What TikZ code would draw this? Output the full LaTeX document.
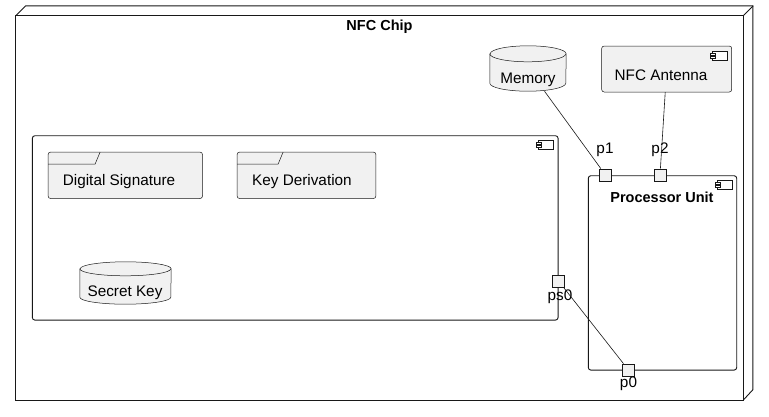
\documentclass[tikz,border=0pt]{standalone}
\usepackage{fontspec}
\setmainfont{Liberation Sans}
\definecolor{elfill}{HTML}{F1F1F1}
\definecolor{ln}{HTML}{181818}
\begin{document}
\begin{tikzpicture}[x=1pt,y=-1pt,
  every node/.style={font=\fontsize{15.3}{18}\selectfont, inner sep=0pt},
  frame/.style={draw=ln, line width=0.9pt, fill=white, rounded corners=2.5pt},
  elem/.style={draw=ln, line width=0.5pt, fill=elfill, rounded corners=2.5pt},
  port/.style={draw=ln, line width=0.8pt, fill=elfill, minimum size=12pt, rectangle},
  conn/.style={draw=ln, line width=0.6pt},
  ghost/.style={rectangle, draw=none, fill=none},
  lbl/.style={text=black},
  ttl/.style={font=\fontsize{14.5}{17}\selectfont\bfseries}
]
\newcommand\compglyph[1]{%
  \begin{scope}[shift={(#1)}]
    \draw[ln, line width=0.5pt, fill=white] (-20,5) rectangle (-5,14);
    \draw[ln, line width=0.5pt, fill=white] (-22,7) rectangle (-17,9);
    \draw[ln, line width=0.5pt, fill=white] (-22,10) rectangle (-17,12);
  \end{scope}}
\useasboundingbox[fill=white] (0,0) rectangle (769,416);

% NFC Chip node (3D box)
\node[ghost, minimum width=727pt, minimum height=384pt] (chip) at (379.5,208) {};
\draw[ln, line width=0.9pt, fill=white]
  (chip.north west) -- ++(10,-10) -- ++(727,0) -- ++(0,384) -- (chip.south east) -- cycle;
\draw[ln, line width=0.9pt, fill=white] (chip.north west) rectangle (chip.south east);
\draw[ln, line width=0.9pt] (chip.north east) -- ++(10,-10);
\node[ttl] (chiptitle) at (379.5,27) {NFC Chip};

% left component
\node[frame, minimum width=525.7pt, minimum height=184.3pt] (lb) at (295.2,227.9) {};
\compglyph{lb.north east}

% Processor Unit
\node[frame, minimum width=148.4pt, minimum height=194.3pt] (pu) at (662.5,272.9) {};
\compglyph{pu.north east}
\node[ttl] (putitle) at (662,197) {Processor Unit};

% NFC Antenna
\node[elem, minimum width=130pt, minimum height=46pt] (ant) at (666.7,69) {};
\compglyph{ant.north east}
\node[lbl] (antlbl) at (661,75) {NFC Antenna};

% Memory (database)
\node[ghost, minimum width=76pt, minimum height=45pt] (mem) at (528,68.5) {};
\draw[ln, line width=0.5pt, fill=elfill]
  ([yshift=-8pt]mem.north west) -- ([yshift=8pt]mem.south west)
  arc[start angle=180, end angle=360, x radius=38pt, y radius=8pt]
  -- ([yshift=-8pt]mem.north east)
  arc[start angle=0, end angle=180, x radius=38pt, y radius=8pt] -- cycle;
\draw[ln, line width=0.5pt] ([yshift=-8pt]mem.north west)
  arc[start angle=180, end angle=360, x radius=38pt, y radius=8pt];
\node[lbl] (memlbl) at (528,80) {Memory};

% Digital Signature folder
\node[ghost, minimum width=154pt, minimum height=46pt] (ds) at (125.3,175.3) {};
\draw[elem] (ds.north west) rectangle (ds.south east);
\draw[ln, line width=0.5pt] ([yshift=-12pt]ds.north west) -- ++(47,0) -- ([xshift=52pt]ds.north west);
\node[lbl, anchor=west] (dslbl) at (62.7,182) {Digital Signature};

% Key Derivation folder
\node[ghost, minimum width=138.4pt, minimum height=46pt] (kd) at (306.5,175.3) {};
\draw[elem] (kd.north west) rectangle (kd.south east);
\draw[ln, line width=0.5pt] ([yshift=-12pt]kd.north west) -- ++(41,0) -- ([xshift=46pt]kd.north west);
\node[lbl, anchor=west] (kdlbl) at (252,182) {Key Derivation};

% Secret Key (database)
\node[ghost, minimum width=91pt, minimum height=42pt] (sk) at (125.5,283) {};
\draw[ln, line width=0.5pt, fill=elfill]
  ([yshift=-7pt]sk.north west) -- ([yshift=7pt]sk.south west)
  arc[start angle=180, end angle=360, x radius=45.5pt, y radius=7pt]
  -- ([yshift=-7pt]sk.north east)
  arc[start angle=0, end angle=180, x radius=45.5pt, y radius=7pt] -- cycle;
\draw[ln, line width=0.5pt] ([yshift=-7pt]sk.north west)
  arc[start angle=180, end angle=360, x radius=45.5pt, y radius=7pt];
\node[lbl] (sklbl) at (125,293) {Secret Key};

% ports
\node[port] (p1) at (605.5,175) {};
\node[port] (p2) at (660,175) {};
\node[port] (ps0) at (558.5,281) {};
\node[port] (p0) at (628.5,370) {};
\node[lbl] (p1lbl) at (605,150) {p1};
\node[lbl] (p2lbl) at (660,150) {p2};
\node[lbl] (ps0lbl) at (560,297) {ps0};
\node[lbl] (p0lbl) at (628.5,383.5) {p0};

% connectors
\draw[conn] (mem) -- (p1);
\draw[conn] (ant) -- (p2);
\draw[conn] (ps0) -- (p0);
\end{tikzpicture}
\end{document}
